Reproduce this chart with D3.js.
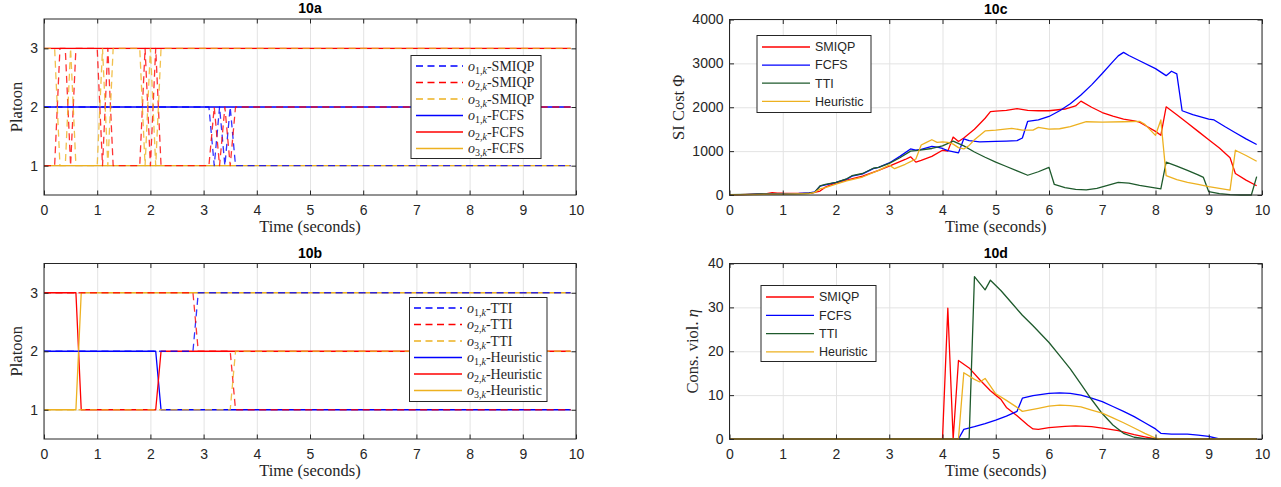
<!DOCTYPE html>
<html><head><meta charset="utf-8">
<script src="https://cdn.jsdelivr.net/npm/d3@7"></script>
<style>body{margin:0;background:#fff}svg{display:block}</style>
</head><body><svg id="c" width="1281" height="487"></svg>
<script>
// ---------- tick labels ----------
const TIME_TICKS = [0,1,2,3,4,5,6,7,8,9,10];
const PLATOON_TICKS = [1,2,3];
const COST_TICKS = [0,1000,2000,3000,4000];
const VIOL_TICKS = [0,10,20,30,40];

// ---------- 10a : SMIQP (dashed) and FCFS (solid) platoon assignment, [time, platoon] ----------
const smiqpO1 = [[0,2],[3.1,2],[3.2,1],[3.3,2],[3.4,1],[3.5,2],[3.6,1],[9.9,1]];
const smiqpO2 = [[0,1],[0.2,1],[0.3,3],[0.4,3],[0.5,1],[0.6,3],[1.0,3],[1.1,1],[1.2,3],[1.3,1],[1.8,1],[1.9,3],[2.0,1],[2.1,3],[2.2,1],[3.1,1],[3.2,2],[3.3,1],[3.4,2],[3.5,1],[3.6,2],[9.9,2]];
const smiqpO3 = [[0,3],[0.2,3],[0.3,1],[0.4,1],[0.5,3],[0.6,1],[1.0,1],[1.1,3],[1.2,1],[1.3,3],[1.8,3],[1.9,1],[2.0,3],[2.1,1],[2.2,3],[9.9,3]];
const fcfsO1 = [[0,2],[9.9,2]];
const fcfsO2 = [[0,3],[9.9,3]];
const fcfsO3 = [[0,1],[9.9,1]];

// ---------- 10b : TTI (dashed) and Heuristic (solid) ----------
const ttiO1 = [[0,2],[2.8,2],[2.9,3],[9.9,3]];
const ttiO2 = [[0,3],[2.8,3],[2.9,2],[3.5,2],[3.6,1],[9.9,1]];
const ttiO3 = [[0,1],[3.5,1],[3.6,2],[9.9,2]];
const heurO1 = [[0,2],[2.1,2],[2.2,1],[9.9,1]];
const heurO2 = [[0,3],[0.6,3],[0.7,1],[2.1,1],[2.2,2],[9.9,2]];
const heurO3 = [[0,1],[0.6,1],[0.7,3],[9.9,3]];

// ---------- 10c : SI cost, [time, cost] ----------
const costSMIQP = [[0,0],[0.2,10],[0.5,20],[0.7,30],[0.8,55],[0.9,45],[1.0,40],[1.3,35],[1.5,40],[1.6,60],[1.7,90],[1.8,180],[1.9,230],[2.0,270],[2.2,340],[2.5,430],[2.8,560],[3.0,660],[3.2,760],[3.3,810],[3.4,870],[3.5,750],[3.6,790],[3.8,880],[4.0,1020],[4.1,1000],[4.2,1320],[4.3,1220],[4.4,1300],[4.6,1500],[4.8,1750],[4.9,1900],[5.0,1910],[5.2,1930],[5.4,1970],[5.6,1930],[5.8,1920],[6.0,1920],[6.3,1960],[6.5,2030],[6.6,2140],[6.8,2000],[7.0,1880],[7.2,1800],[7.4,1730],[7.6,1690],[7.7,1660],[7.8,1590],[8.0,1450],[8.1,1360],[8.2,2010],[8.4,1830],[8.6,1640],[8.8,1450],[9.0,1260],[9.2,1070],[9.4,850],[9.5,490],[9.7,340],[9.9,210]];
const costFCFS = [[0,0],[0.3,10],[0.6,20],[1.0,30],[1.3,35],[1.5,50],[1.6,70],[1.7,200],[1.8,230],[2.0,290],[2.2,360],[2.3,430],[2.5,480],[2.7,600],[2.8,630],[3.0,730],[3.2,880],[3.4,1050],[3.5,1020],[3.6,1040],[3.8,1110],[3.9,1090],[4.0,1060],[4.1,1010],[4.3,960],[4.4,1280],[4.5,1240],[4.7,1210],[5.0,1220],[5.2,1230],[5.4,1240],[5.5,1300],[5.6,1680],[5.8,1710],[6.0,1790],[6.2,1920],[6.4,2080],[6.6,2280],[6.8,2510],[7.0,2770],[7.2,3040],[7.3,3170],[7.4,3250],[7.5,3180],[7.7,3060],[8.0,2880],[8.2,2720],[8.3,2820],[8.4,2760],[8.5,1920],[8.7,1830],[9.0,1730],[9.1,1710],[9.3,1560],[9.5,1420],[9.7,1280],[9.9,1150]];
const costTTI = [[0,10],[0.3,15],[0.6,25],[1.0,20],[1.3,25],[1.5,40],[1.6,60],[1.7,210],[1.8,240],[2.0,290],[2.2,370],[2.3,440],[2.5,490],[2.7,610],[2.8,630],[3.0,720],[3.2,850],[3.4,1000],[3.5,1010],[3.8,1060],[4.0,1120],[4.2,1230],[4.4,1120],[4.6,980],[4.8,860],[5.0,750],[5.2,650],[5.4,550],[5.6,450],[5.8,530],[6.0,630],[6.1,240],[6.3,170],[6.5,130],[6.7,115],[6.9,150],[7.1,220],[7.3,290],[7.5,270],[7.7,220],[7.9,180],[8.1,140],[8.2,750],[8.4,660],[8.6,560],[8.8,460],[8.9,400],[9.0,75],[9.2,30],[9.4,10],[9.6,0],[9.8,0],[9.9,420]];
const costHeur = [[0,0],[0.5,10],[1.0,20],[1.5,30],[1.6,60],[1.7,140],[1.8,170],[2.0,250],[2.2,320],[2.5,410],[2.8,560],[3.0,680],[3.1,600],[3.3,700],[3.4,760],[3.5,820],[3.6,1140],[3.7,1200],[3.8,1260],[3.9,1200],[4.0,1210],[4.1,1200],[4.2,1160],[4.3,1080],[4.4,1050],[4.5,1130],[4.6,1260],[4.8,1460],[5.0,1480],[5.3,1520],[5.5,1480],[5.7,1480],[5.8,1540],[6.0,1500],[6.2,1510],[6.4,1560],[6.7,1670],[7.0,1660],[7.4,1670],[7.7,1680],[7.8,1610],[8.0,1360],[8.1,1710],[8.2,440],[8.4,350],[8.6,290],[8.8,240],[9.0,190],[9.2,150],[9.4,110],[9.5,1020],[9.7,900],[9.9,770]];

// ---------- 10d : constraint violation, [time, eta] ----------
const violSMIQP = [[0,0],[4.0,0],[4.1,29.8],[4.2,0],[4.3,17.9],[4.5,16.2],[4.7,13.5],[4.9,11],[5.0,10],[5.1,9],[5.2,7.2],[5.4,5.3],[5.6,3.2],[5.7,2.3],[5.8,2.2],[6.0,2.6],[6.3,2.9],[6.5,3.0],[6.8,2.8],[7.0,2.5],[7.3,1.9],[7.6,1.0],[7.8,0.5],[8.0,0],[9.9,0]];
const violFCFS = [[0,0],[4.3,0],[4.4,2.2],[4.6,2.8],[4.8,3.5],[5.0,4.3],[5.2,5.2],[5.4,6.3],[5.5,9.3],[5.7,9.9],[6.0,10.4],[6.2,10.5],[6.4,10.4],[6.6,10.0],[6.8,9.3],[7.0,8.5],[7.2,7.4],[7.4,6.3],[7.6,5.1],[7.8,3.7],[8.0,2.3],[8.1,1.3],[8.3,1.1],[8.6,1.1],[8.8,0.9],[9.0,0.6],[9.2,0],[9.9,0]];
const violTTI = [[0,0],[4.5,0],[4.6,37],[4.8,34],[4.9,36.2],[5.1,33.8],[5.3,31],[5.5,28.2],[5.7,25.8],[6.0,22],[6.2,19],[6.4,16],[6.6,12.5],[6.8,9],[7.0,5.8],[7.2,3.2],[7.4,1.3],[7.6,0.4],[7.8,0.1],[8.0,0],[9.9,0]];
const violHeur = [[0,0],[4.3,0],[4.4,15.1],[4.6,13.6],[4.7,13.0],[4.8,13.8],[5.0,10.3],[5.2,8.8],[5.4,7.2],[5.5,6.3],[5.8,7.0],[6.0,7.5],[6.2,7.7],[6.4,7.6],[6.6,7.3],[6.8,6.6],[7.0,5.9],[7.2,4.8],[7.4,3.7],[7.6,2.5],[7.8,1.3],[8.0,0.2],[8.1,0],[9.9,0]];

// ---------- styling ----------
const BLUE='#0000ff', RED='#ff0000', YEL='#edb120', GRN='#1e5a2c';
const AX='#262626', GRID='#e3e3e3';
const SANS='"Liberation Sans", Arial, Helvetica, sans-serif';
const SERIF='"Liberation Serif", "Times New Roman", serif';

const svg = d3.select('#c');
svg.append('rect').attr('width',1281).attr('height',487).attr('fill','#fff');

function panel(cfg){
  const g = svg.append('g');
  const x = d3.scaleLinear().domain([0,10]).range([cfg.x0,cfg.x1]);
  const y = d3.scaleLinear().domain(cfg.ydom).range([cfg.y1,cfg.y0]);
  const w = cfg.x1-cfg.x0, h = cfg.y1-cfg.y0;
  // grid
  g.append('g').attr('transform',`translate(0,${cfg.y1})`)
    .call(d3.axisBottom(x).tickValues(TIME_TICKS).tickSize(-h).tickFormat(''))
    .call(s=>{s.select('.domain').remove(); s.selectAll('line').attr('stroke',GRID);});
  g.append('g').attr('transform',`translate(${cfg.x0},0)`)
    .call(d3.axisLeft(y).tickValues(cfg.yticks).tickSize(-w).tickFormat(''))
    .call(s=>{s.select('.domain').remove(); s.selectAll('line').attr('stroke',GRID);});
  // data
  const line = d3.line().x(d=>x(d[0])).y(d=>y(d[1]));
  cfg.series.forEach(s=>{
    g.append('path').datum(s.data).attr('d',line).attr('fill','none')
      .attr('stroke',s.color).attr('stroke-width',s.dash?1.3:1.3)
      .attr('stroke-dasharray',s.dash?'7,4.5':null)
      .attr('stroke-opacity',s.dash?0.8:1)
      .attr('stroke-linejoin','round');
  });
  // axes with inward ticks
  const tl = 4.5;
  const bx = g.append('g').attr('transform',`translate(0,${cfg.y1})`)
    .call(d3.axisBottom(x).tickValues(TIME_TICKS).tickSizeInner(-tl).tickSizeOuter(0).tickPadding(10).tickFormat(d3.format('d')));
  const tx = g.append('g').attr('transform',`translate(0,${cfg.y0})`)
    .call(d3.axisTop(x).tickValues(TIME_TICKS).tickSizeInner(-tl).tickSizeOuter(0).tickFormat(''));
  const ly = g.append('g').attr('transform',`translate(${cfg.x0},0)`)
    .call(d3.axisLeft(y).tickValues(cfg.yticks).tickSizeInner(-tl).tickSizeOuter(0).tickPadding(6).tickFormat(d3.format('d')));
  const ry = g.append('g').attr('transform',`translate(${cfg.x1},0)`)
    .call(d3.axisRight(y).tickValues(cfg.yticks).tickSizeInner(-tl).tickSizeOuter(0).tickFormat(''));
  [bx,tx,ly,ry].forEach(a=>{
    a.select('.domain').remove();
    a.selectAll('line').attr('stroke',AX);
    a.selectAll('text').attr('fill',AX).style('font-family',SANS).style('font-size','14px');
  });
  g.append('rect').attr('x',cfg.x0).attr('y',cfg.y0).attr('width',w).attr('height',h)
    .attr('fill','none').attr('stroke',AX).attr('stroke-width',1);
  // title
  g.append('text').attr('x',(cfg.x0+cfg.x1)/2).attr('y',cfg.y0-6).attr('text-anchor','middle')
    .style('font-family',SANS).style('font-size','14px').style('font-weight','bold').attr('fill','#000').text(cfg.title);
  // x label
  g.append('text').attr('x',(cfg.x0+cfg.x1)/2).attr('y',cfg.y1+37).attr('text-anchor','middle')
    .style('font-family',SERIF).style('font-size','16.5px').attr('fill',AX).text('Time (seconds)');
  // y label
  const yl = g.append('text').attr('transform',`translate(${cfg.ylx},${(cfg.y0+cfg.y1)/2}) rotate(-90)`)
    .attr('text-anchor','middle').style('font-family',SERIF).style('font-size','16.5px').attr('fill',AX);
  cfg.ylabel(yl);
  // legend
  const L = cfg.legend;
  g.append('rect').attr('x',L.bx0).attr('y',L.by0).attr('width',L.bx1-L.bx0).attr('height',L.by1-L.by0)
    .attr('fill','#fff').attr('stroke',AX).attr('stroke-width',1);
  L.items.forEach((it,i)=>{
    const yy = L.ey0 + i*L.step;
    g.append('line').attr('x1',L.lx0).attr('x2',L.lx1).attr('y1',yy).attr('y2',yy)
      .attr('stroke',it.color).attr('stroke-width',1.3)
      .attr('stroke-dasharray',it.dash?'7,4.5':null);
    const t = g.append('text').attr('x',L.tx).attr('y',yy).attr('dy','0.35em').attr('fill',AX);
    if(L.math){
      t.style('font-family',SERIF).style('font-size','14px');
      t.append('tspan').style('font-style','italic').text('o');
      t.append('tspan').attr('dy',3).style('font-size','10px').text(it.idx+',');
      t.append('tspan').style('font-size','10px').style('font-style','italic').text('k');
      t.append('tspan').attr('dy',-3).text('-'+it.name);
    } else {
      t.style('font-family',SANS).style('font-size','12.5px').text(it.name);
    }
  });
}

panel({title:'10a', x0:44, x1:576, y0:19, y1:195, ydom:[0.5,3.5], yticks:PLATOON_TICKS, ylx:22,
  ylabel: t=>t.text('Platoon'),
  series:[
    {data:fcfsO1,color:BLUE},{data:fcfsO2,color:RED},{data:fcfsO3,color:YEL},
    {data:smiqpO1,color:BLUE,dash:true},{data:smiqpO2,color:RED,dash:true},{data:smiqpO3,color:YEL,dash:true}],
  legend:{bx0:411,bx1:541,by0:55.5,by1:158.5,ey0:66,step:16.5,lx0:416,lx1:463,tx:468,math:true,
    items:[{idx:1,name:'SMIQP',color:BLUE,dash:true},{idx:2,name:'SMIQP',color:RED,dash:true},{idx:3,name:'SMIQP',color:YEL,dash:true},
           {idx:1,name:'FCFS',color:BLUE},{idx:2,name:'FCFS',color:RED},{idx:3,name:'FCFS',color:YEL}]}
});

panel({title:'10b', x0:44, x1:576, y0:263.5, y1:439, ydom:[0.5,3.5], yticks:PLATOON_TICKS, ylx:22,
  ylabel: t=>t.text('Platoon'),
  series:[
    {data:heurO1,color:BLUE},{data:heurO2,color:RED},{data:heurO3,color:YEL},
    {data:ttiO1,color:BLUE,dash:true},{data:ttiO2,color:RED,dash:true},{data:ttiO3,color:YEL,dash:true}],
  legend:{bx0:409.5,bx1:547,by0:297.5,by1:401.5,ey0:308,step:16.5,lx0:414,lx1:462,tx:467,math:true,
    items:[{idx:1,name:'TTI',color:BLUE,dash:true},{idx:2,name:'TTI',color:RED,dash:true},{idx:3,name:'TTI',color:YEL,dash:true},
           {idx:1,name:'Heuristic',color:BLUE},{idx:2,name:'Heuristic',color:RED},{idx:3,name:'Heuristic',color:YEL}]}
});

panel({title:'10c', x0:729.5, x1:1262, y0:19.5, y1:195, ydom:[0,4000], yticks:COST_TICKS, ylx:684,
  ylabel: t=>{ t.text('SI Cost  '); t.append('tspan').text('Φ'); },
  series:[{data:costSMIQP,color:RED},{data:costFCFS,color:BLUE},{data:costTTI,color:GRN},{data:costHeur,color:YEL}],
  legend:{bx0:757,bx1:871,by0:35.5,by1:112.5,ey0:47,step:18.1,lx0:762,lx1:810,tx:815,math:false,
    items:[{name:'SMIQP',color:RED},{name:'FCFS',color:BLUE},{name:'TTI',color:GRN},{name:'Heuristic',color:YEL}]}
});

panel({title:'10d', x0:729.5, x1:1262, y0:263.5, y1:439, ydom:[0,40], yticks:VIOL_TICKS, ylx:698,
  ylabel: t=>{ t.text('Cons. viol. '); t.append('tspan').style('font-style','italic').text('η'); },
  series:[{data:violSMIQP,color:RED},{data:violFCFS,color:BLUE},{data:violTTI,color:GRN},{data:violHeur,color:YEL}],
  legend:{bx0:761,bx1:876,by0:285.5,by1:361.5,ey0:297,step:18.3,lx0:766,lx1:814,tx:819,math:false,
    items:[{name:'SMIQP',color:RED},{name:'FCFS',color:BLUE},{name:'TTI',color:GRN},{name:'Heuristic',color:YEL}]}
});
</script></body></html>
